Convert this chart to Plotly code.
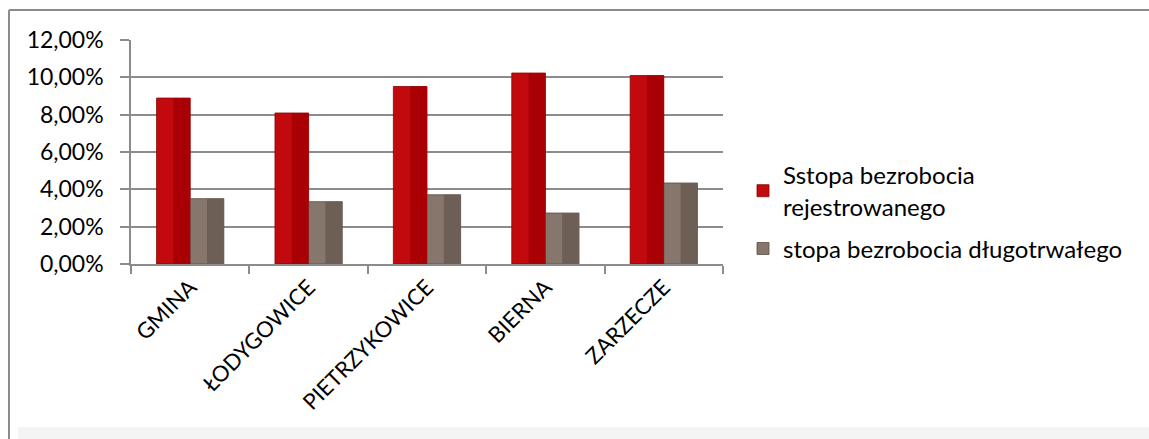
import plotly.graph_objects as go

categories = ["GMINA", "ŁODYGOWICE", "PIETRZYKOWICE", "BIERNA", "ZARZECZE"]
stopa_rejestrowanego = [0.0889, 0.0809, 0.0951, 0.1023, 0.1010]
stopa_dlugotrwalego = [0.0350, 0.0334, 0.0371, 0.0273, 0.0434]
series_names = ["Sstopa bezrobocia<br>rejestrowanego", "stopa bezrobocia długotrwałego"]
y_ticks = [0, 0.02, 0.04, 0.06, 0.08, 0.10, 0.12]

W, H = 1149, 439
L, R, T, B = 131, 723, 40, 264
FONT = "Lato"
BW = 0.284

fig = go.Figure()
# main bars
fig.add_trace(go.Bar(x=categories, y=stopa_rejestrowanego, name=series_names[0],
                     legendgroup="a", width=BW, offset=-BW,
                     marker=dict(color="#c20a0e", line=dict(color="#8a0000", width=0.8))))
fig.add_trace(go.Bar(x=categories, y=stopa_dlugotrwalego, name=series_names[1],
                     legendgroup="b", width=BW, offset=0,
                     marker=dict(color="#86766b", line=dict(color="#5a4c44", width=0.8))))
# darker right halves (bevel look)
fig.add_trace(go.Bar(x=categories, y=stopa_rejestrowanego, showlegend=False, hoverinfo="skip",
                     legendgroup="a", width=BW / 2, offset=-BW / 2,
                     marker=dict(color="#a80004", line=dict(width=0))))
fig.add_trace(go.Bar(x=categories, y=stopa_dlugotrwalego, showlegend=False, hoverinfo="skip",
                     legendgroup="b", width=BW / 2, offset=BW / 2,
                     marker=dict(color="#6d5f56", line=dict(width=0))))

def px(x):
    return (x - L) / (R - L)

def py(y):
    return (B - y) / (B - T)

shapes = [
    # frame
    dict(type="line", xref="paper", yref="paper", x0=px(9), x1=px(W), y0=py(10), y1=py(10),
         line=dict(color="#8c8c8c", width=2)),
    dict(type="line", xref="paper", yref="paper", x0=px(9), x1=px(9), y0=py(10), y1=py(H),
         line=dict(color="#8c8c8c", width=2)),
    dict(type="rect", xref="paper", yref="paper", x0=px(18), x1=px(W), y0=py(427), y1=py(H),
         fillcolor="#f4f4f4", line=dict(width=0), layer="below"),
]

fig.update_layout(
    width=W, height=H,
    margin=dict(l=L, r=W - R, t=T, b=H - B, pad=0),
    paper_bgcolor="white", plot_bgcolor="white",
    barmode="overlay",
    separators=", ",
    font=dict(family=FONT, size=23, color="#000000"),
    showlegend=True,
    legend=dict(x=px(743), y=py(153), xanchor="left", yanchor="top",
                font=dict(family=FONT, size=24, color="#000000"),
                traceorder="grouped", tracegroupgap=8,
                bgcolor="rgba(0,0,0,0)", itemwidth=30),
    shapes=shapes,
    xaxis=dict(type="category", tickangle=-45, showgrid=False,
               showline=True, linecolor="#8c8c8c", linewidth=1.5,
               ticks="outside", ticklen=8, tickcolor="#8c8c8c", tickwidth=1.5,
               tickson="boundaries", tickfont=dict(family=FONT, size=22),
               range=[-0.5, 4.5]),
    yaxis=dict(range=[0, 0.12], tickvals=y_ticks, tickformat=".2%",
               showgrid=True, gridcolor="#8c8c8c", gridwidth=1.5,
               showline=True, linecolor="#8c8c8c", linewidth=1.5,
               ticks="outside", ticklen=9, tickcolor="#8c8c8c", tickwidth=1.5,
               ticklabelstandoff=12, zeroline=False,
               tickfont=dict(family=FONT, size=23)),
)

fig.write_html("out.html", config={"displayModeBar": False},
               post_script="document.body.style.margin='0';document.body.style.overflow='hidden';")
